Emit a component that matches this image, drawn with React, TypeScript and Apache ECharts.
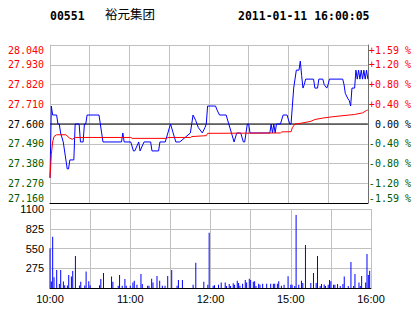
import React, { useEffect, useRef } from 'react';
import * as echarts from 'echarts';

const STOCK_CODE = '00551';
const STOCK_NAME = '裕元集团';
const TIMESTAMP = '2011-01-11 16:00:05';
const PREV_CLOSE = 27.6;
const PRICE_MIN = 27.16;
const PRICE_MAX = 28.04;
const PRICE_STEP = 0.11;
const SESSION_MINUTES = 240;
const TIME_LABELS: [number, string][] = [
  [0, '10:00'], [60, '11:00'], [120, '12:00'], [180, '15:00'], [240, '16:00'],
];
const VOLUME_MAX = 1100;
const VOLUME_STEP = 275;

// [minute index, price]
const priceTrace: [number, number][] = [
  [0, 27.30], [1, 27.70], [2, 27.65], [5, 27.65], [6, 27.60], [7, 27.60], [8, 27.55],
  [10, 27.50], [11, 27.45], [12, 27.40], [13, 27.35], [14, 27.35], [15, 27.40], [18, 27.40],
  [19, 27.60], [22, 27.60], [23, 27.50], [25, 27.50], [26, 27.60], [27, 27.60], [28, 27.65],
  [37, 27.65], [38, 27.60], [39, 27.55], [40, 27.50], [54, 27.50], [55, 27.55], [56, 27.50],
  [61, 27.50], [63, 27.45], [64, 27.45], [67, 27.50], [68, 27.45], [71, 27.50], [76, 27.50],
  [77, 27.45], [82, 27.45], [83, 27.50], [87, 27.50], [89, 27.55], [91, 27.60], [93, 27.55],
  [95, 27.50], [98, 27.50], [106, 27.55], [107, 27.60], [108, 27.65], [110, 27.62], [112, 27.58],
  [115, 27.55], [117, 27.58], [118, 27.60], [119, 27.70], [125, 27.70], [126, 27.68], [128, 27.65],
  [133, 27.65], [135, 27.60], [137, 27.55], [139, 27.50], [141, 27.55], [144, 27.55], [146, 27.50],
  [147, 27.50], [149, 27.60], [150, 27.60], [151, 27.55], [166, 27.55], [167, 27.60], [168, 27.55],
  [169, 27.60], [170, 27.55], [171, 27.60], [174, 27.60], [176, 27.65], [179, 27.65], [181, 27.60],
  [182, 27.60], [183, 27.70], [184, 27.80], [185, 27.85], [186, 27.90], [188, 27.90], [189, 27.95],
  [190, 27.87], [191, 27.80], [192, 27.82], [193, 27.85], [199, 27.85], [200, 27.80], [202, 27.80],
  [203, 27.85], [206, 27.85], [207, 27.82], [209, 27.80], [210, 27.82], [211, 27.85], [221, 27.85],
  [222, 27.82], [223, 27.77], [225, 27.74], [226, 27.73], [227, 27.70], [228, 27.80], [230, 27.80],
  [231, 27.90], [232, 27.85], [233, 27.90], [234, 27.85], [235, 27.90], [236, 27.85], [237, 27.90],
  [238, 27.85], [239, 27.90], [240, 27.85],
];

// [minute index, average price]
const avgTrace: [number, number][] = [
  [0, 27.30], [1, 27.43], [2, 27.50], [3, 27.53], [5, 27.54], [12, 27.54], [15, 27.52],
  [17, 27.515], [19, 27.525], [61, 27.525], [62, 27.52], [88, 27.52], [89, 27.525], [106, 27.525],
  [107, 27.53], [118, 27.535], [119, 27.548], [174, 27.55], [175, 27.556], [182, 27.557],
  [183, 27.58], [185, 27.60], [190, 27.605], [197, 27.615], [200, 27.625], [206, 27.633],
  [213, 27.64], [222, 27.647], [230, 27.653], [236, 27.662], [239, 27.675], [240, 27.678],
];

// [minute index, volume]
const volumeBars: [number, number][] = [
  [0, 552], [1, 90], [2, 714], [3, 150], [5, 250], [7, 55], [8, 250], [10, 90], [11, 40], [13, 35],
  [14, 180], [16, 160], [17, 236], [19, 445], [22, 35], [23, 88], [26, 35], [27, 230], [29, 95],
  [30, 40], [37, 40], [38, 125], [40, 210], [46, 160], [47, 88], [51, 30], [52, 180], [54, 30],
  [56, 125], [57, 30], [60, 30], [62, 75], [63, 100], [65, 45], [68, 195], [69, 55], [73, 30],
  [74, 30], [76, 130], [77, 75], [80, 168], [82, 100], [84, 30], [86, 30], [88, 168], [91, 250],
  [95, 30], [96, 111], [99, 111], [107, 45], [109, 352], [115, 88], [118, 45], [119, 770],
  [122, 30], [123, 40], [126, 45], [128, 75], [131, 75], [132, 28], [134, 55], [135, 28],
  [137, 65], [138, 45], [140, 100], [141, 70], [142, 30], [144, 60], [146, 111], [147, 75],
  [149, 130], [150, 111], [152, 88], [153, 95], [154, 28], [156, 60], [157, 45], [159, 60],
  [162, 60], [165, 60], [167, 60], [168, 60], [170, 60], [171, 95], [173, 30], [175, 45],
  [178, 165], [180, 45], [181, 45], [183, 28], [184, 1016], [186, 45], [188, 100], [189, 70],
  [191, 598], [195, 70], [197, 210], [199, 70], [200, 445], [202, 28], [203, 56], [205, 50],
  [206, 28], [208, 45], [209, 111], [210, 95], [212, 45], [213, 45], [215, 56], [217, 28],
  [219, 56], [220, 160], [223, 28], [225, 362], [227, 28], [228, 195], [231, 75], [232, 28],
  [233, 167], [236, 75], [237, 473], [238, 181], [239, 241],
];

const RED = '#ff0000';
const GREEN = '#005a00';
const BLUE = '#0000ff';
const GRID_GRAY = '#c0c0c0';

const chg = (p: number) => +(p - PREV_CLOSE).toFixed(4);

const labelColor = (val: any) => {
  const v = parseFloat(val);
  if (v > 1e-6) return RED;
  if (v < -1e-6) return GREEN;
  return '#000000';
};

const pctLabel = (val: any) => {
  const v = parseFloat(val);
  const s = ((Math.abs(v) / PREV_CLOSE) * 100).toFixed(2);
  if (Math.abs(v) < 1e-6) return '\u00a0' + s + ' %';
  return (v > 0 ? '+' : '-') + s + ' %';
};

const timeLabel = (val: any) => {
  const v = Math.round(parseFloat(val));
  const hit = TIME_LABELS.find((t) => t[0] === v);
  return hit ? hit[1] : '';
};

export default function App() {
  const ref = useRef<HTMLDivElement>(null);
  useEffect(() => {
    if (!ref.current) return;
    const chart = echarts.init(ref.current, undefined, { renderer: 'svg' });
    const yMin = +(PRICE_MIN - PREV_CLOSE).toFixed(2);
    const yMax = +(PRICE_MAX - PREV_CLOSE).toFixed(2);
    const mono = 'DejaVu Sans Mono';
    const sans = 'Liberation Sans';
    chart.setOption({
      animation: false,
      backgroundColor: '#ffffff',
      grid: [
        { left: 50, top: 45, width: 321, height: 158 },
        { left: 50, top: 209, width: 321, height: 79 },
      ],
      graphic: [
        { type: 'text', left: 50, top: 10, style: { text: STOCK_CODE, font: `bold 11.5px "${mono}"`, fill: '#000' } },
        { type: 'text', left: 105, top: 7, style: { text: STOCK_NAME, font: '12.5px "Noto Sans CJK SC"', fill: '#000' } },
        { type: 'text', left: 238, top: 10, style: { text: TIMESTAMP, font: `bold 11.5px "${mono}"`, fill: '#000' } },
      ],
      xAxis: [
        {
          gridIndex: 0, type: 'value', min: 0, max: SESSION_MINUTES, interval: 30,
          axisLabel: { show: false }, axisTick: { show: false },
          axisLine: { onZero: false, lineStyle: { color: '#000000', width: 1 } },
          splitLine: { lineStyle: { color: GRID_GRAY, width: 1 } },
        },
        {
          gridIndex: 1, type: 'value', min: 0, max: SESSION_MINUTES, interval: 30,
          axisLabel: { formatter: timeLabel, fontFamily: sans, fontSize: 11, color: '#000', margin: 5 },
          axisTick: { show: false },
          axisLine: { onZero: false, lineStyle: { color: '#000000', width: 1 } },
          splitLine: { lineStyle: { color: GRID_GRAY, width: 1 } },
        },
      ],
      yAxis: [
        {
          gridIndex: 0, type: 'value', min: yMin, max: yMax, interval: PRICE_STEP,
          axisLine: { show: true, lineStyle: { color: GRID_GRAY } },
          axisTick: { show: false },
          splitLine: { lineStyle: { color: GRID_GRAY, width: 1 } },
          axisLabel: {
            formatter: (v: any) => (PREV_CLOSE + parseFloat(v)).toFixed(3),
            color: labelColor, fontFamily: mono, fontSize: 10, margin: 6,
            verticalAlignMaxLabel: 'top', verticalAlignMinLabel: 'bottom',
          },
        },
        {
          gridIndex: 0, type: 'value', position: 'right', min: yMin, max: yMax, interval: PRICE_STEP,
          axisLine: { show: true, lineStyle: { color: '#707070' } },
          axisTick: { show: false },
          splitLine: { show: false },
          axisLabel: {
            formatter: pctLabel, color: labelColor, fontFamily: mono, fontSize: 10, margin: 1,
            verticalAlignMaxLabel: 'top', verticalAlignMinLabel: 'bottom',
          },
        },
        {
          gridIndex: 1, type: 'value', min: 0, max: VOLUME_MAX, interval: VOLUME_STEP,
          axisLine: { show: true, lineStyle: { color: GRID_GRAY } },
          axisTick: { show: false },
          splitLine: { lineStyle: { color: GRID_GRAY, width: 1 } },
          axisLabel: {
            showMinLabel: false, formatter: (v: any) => String(Math.round(parseFloat(v))),
            fontFamily: sans, fontSize: 11, color: '#000', margin: 6, padding: [5, 0, 0, 0],
          },
        },
      ],
      series: [
        {
          type: 'line', xAxisIndex: 0, yAxisIndex: 0, silent: true, z: 1,
          data: [[0, 0], [SESSION_MINUTES, 0]], symbol: 'none',
          lineStyle: { color: '#000000', width: 1 },
        },
        {
          type: 'line', xAxisIndex: 0, yAxisIndex: 0, z: 2,
          data: priceTrace.map(([m, p]) => [m, chg(p)]), symbol: 'none',
          lineStyle: { color: BLUE, width: 1 },
        },
        {
          type: 'line', xAxisIndex: 0, yAxisIndex: 0, z: 3,
          data: avgTrace.map(([m, p]) => [m, chg(p)]), symbol: 'none',
          lineStyle: { color: RED, width: 1 },
        },
        {
          type: 'bar', xAxisIndex: 1, yAxisIndex: 2, z: 2,
          data: volumeBars, barWidth: 1, itemStyle: { color: BLUE },
        },
      ],
    });
    return () => chart.dispose();
  }, []);
  return <div ref={ref} style={{ position: 'absolute', left: 0, top: 0, width: 414, height: 314 }} />;
}
